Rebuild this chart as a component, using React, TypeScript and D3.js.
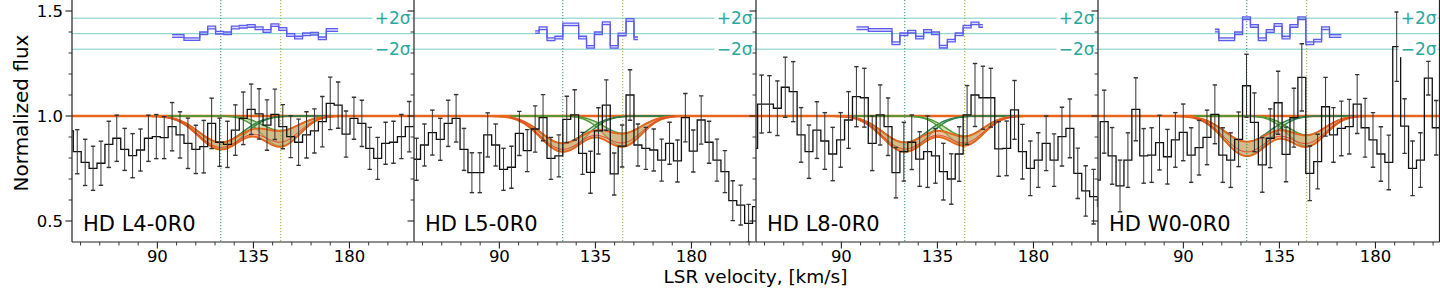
import React from "react";
import * as d3 from "d3";

// ---------------- data ----------------
const panelNames = ["HD L4-0R0", "HD L5-0R0", "HD L8-0R0", "HD W0-0R0"];

const xMajorTicks = [90, 135, 180];
const xMajorLabels = ["90", "135", "180"];
const xMinorTicks = [54, 63, 72, 81, 99, 108, 117, 126, 144, 153, 162, 171, 189, 198, 207];
const yMajorTicks = [0.5, 1.0, 1.5];
const yMajorLabels = ["0.5", "1.0", "1.5"];
const yMinorTicks = [0.6, 0.7, 0.8, 0.9, 1.1, 1.2, 1.3, 1.4];

// velocity bins: centre of bin k = binZero + binWidth*k ; arrays start at k = -1
const binWidth = 3.704;
const binZero = [52.46, 51.2, 52.6, 52.9];

const fluxL4 = [0.929, 0.830, 0.779, 0.751, 0.775, 0.865, 0.894, 0.841, 0.811, 0.838, 0.894, 0.902, 0.897, 0.949, 0.910, 0.870, 0.841, 0.854, 0.965, 0.875, 0.865, 0.933, 0.989, 1.032, 1.010, 0.957, 1.008, 0.949, 0.902, 0.875, 0.910, 0.929, 0.973, 1.060, 1.052, 0.914, 0.989, 0.965, 0.846, 0.798, 0.870, 0.875, 0.902, 0.949, 0.950];
const errL4 = [0.10, 0.105, 0.11, 0.105, 0.105, 0.11, 0.11, 0.10, 0.105, 0.10, 0.11, 0.105, 0.10, 0.115, 0.11, 0.12, 0.115, 0.125, 0.12, 0.115, 0.11, 0.12, 0.125, 0.12, 0.12, 0.12, 0.12, 0.105, 0.10, 0.11, 0.11, 0.105, 0.12, 0.125, 0.11, 0.11, 0.10, 0.11, 0.10, 0.10, 0.10, 0.10, 0.105, 0.12, 0.11];

const fluxL5 = [0.846, 0.794, 0.862, 0.921, 0.889, 0.965, 0.989, 0.841, 0.730, 0.730, 0.910, 0.862, 0.746, 0.756, 0.917, 0.835, 0.938, 0.992, 0.798, 0.810, 0.984, 1.005, 0.822, 0.732, 0.929, 1.052, 0.724, 0.857, 1.100, 0.862, 0.846, 0.838, 0.790, 0.870, 0.786, 0.992, 0.833, 0.981, 0.875, 0.790, 0.735, 0.597, 0.576, 0.489, 0.568];
const errL5 = [0.10, 0.10, 0.10, 0.107, 0.10, 0.11, 0.113, 0.10, 0.095, 0.095, 0.105, 0.10, 0.10, 0.10, 0.105, 0.10, 0.11, 0.11, 0.10, 0.10, 0.11, 0.12, 0.10, 0.10, 0.11, 0.12, 0.10, 0.10, 0.12, 0.10, 0.10, 0.10, 0.10, 0.10, 0.10, 0.115, 0.10, 0.115, 0.10, 0.10, 0.10, 0.095, 0.095, 0.09, 0.09];

const fluxL8 = [0.846, 1.057, 1.057, 1.037, 1.137, 1.116, 0.910, 0.830, 0.933, 0.881, 0.819, 0.886, 0.981, 1.092, 1.087, 0.870, 1.005, 0.949, 0.730, 0.830, 0.875, 0.795, 0.830, 0.810, 0.735, 0.700, 0.819, 1.005, 1.100, 1.087, 1.087, 0.843, 0.846, 1.029, 0.830, 0.751, 0.790, 0.870, 0.790, 0.902, 0.941, 0.727, 0.643, 0.616, 0.568];
const errL8 = [0.13, 0.138, 0.135, 0.13, 0.143, 0.143, 0.13, 0.127, 0.135, 0.135, 0.127, 0.13, 0.135, 0.143, 0.14, 0.13, 0.143, 0.137, 0.12, 0.14, 0.13, 0.13, 0.17, 0.13, 0.135, 0.12, 0.13, 0.14, 0.15, 0.15, 0.14, 0.13, 0.13, 0.14, 0.13, 0.13, 0.13, 0.13, 0.125, 0.14, 0.14, 0.12, 0.12, 0.13, 0.13];

const fluxW0 = [0.695, 0.973, 0.810, 0.667, 0.790, 1.032, 0.810, 0.814, 0.873, 0.806, 0.886, 0.922, 0.814, 0.849, 0.898, 1.008, 0.814, 0.790, 0.889, 1.144, 0.970, 0.767, 0.894, 1.063, 0.817, 0.992, 1.184, 0.727, 0.783, 1.044, 0.910, 0.941, 0.949, 1.057, 0.944, 0.886, 0.819, 0.779, 1.330, 0.952, 0.751, 0.790, 1.180, 0.944, 0.944];
const errW0 = [0.13, 0.15, 0.135, 0.123, 0.13, 0.15, 0.13, 0.13, 0.13, 0.13, 0.13, 0.135, 0.13, 0.13, 0.13, 0.14, 0.13, 0.13, 0.13, 0.15, 0.14, 0.13, 0.14, 0.15, 0.13, 0.14, 0.16, 0.13, 0.13, 0.14, 0.13, 0.13, 0.13, 0.14, 0.14, 0.13, 0.13, 0.13, 0.165, 0.13, 0.13, 0.13, 0.08, 0.13, 0.13];

// residuals (in sigma units), first value at bin k = residStart
const residStart = [12, 15, 12, 14];
const residL4 = [-0.3, -0.3, -0.7, -0.7, 0.05, 0.8, 0.13, 0.05, 0.8, 0.9, 1.0, 0.7, 0.35, 1.1, 0.6, -0.17, -0.5, -0.08, 0.0, -0.6, 0.48, 0.48];
const residL5 = [0.2, 0.7, -0.72, -0.5, 1.2, 1.2, -0.5, -1.7, 0.05, 1.35, -1.7, -0.1, 1.77, -0.6];
const residL8 = [0.7, 0.7, 0.48, 0.48, 0.48, -1.24, -0.08, 0.26, -0.5, 0.35, 0.05, -1.68, -0.9, -0.08, 0.91, 1.33, 1.0];
const residW0 = [0.4, -0.72, -0.72, 0.05, 2.0, 1.0, -0.72, 0.35, 1.12, -0.5, 1.0, 2.0, -1.24, -0.9, 0.7, -0.3, -0.3];
const residZero = 1.392;
const residSigma = 0.0369;

// two absorption components
const lineCenters = [119.7, 147.8];
const lineWidths = [10, 8.5];
const tau1Strong = [0.173, 0.186, 0.186, 0.211];
const tau1Weak = [0.134, 0.139, 0.134, 0.13];
const tau2Strong = [0.155, 0.155, 0.149, 0.155];
const tau2Weak = [0.071, 0.085, 0.1, 0.094];
const compRange = [95, 172];

const fluxSets = [fluxL4, fluxL5, fluxL8, fluxW0];
const errSets = [errL4, errL5, errL8, errW0];
const residSets = [residL4, residL5, residL8, residW0];

// ---------------- layout ----------------
const PANEL_LEFT = [72, 414, 756, 1098];
const PANEL_W = 341.5;
const BOTTOM = 242;
const Y = d3.scaleLinear().domain([0.4, 1.0]).range([BOTTOM, 116]);
const FONT = "DejaVu Sans";

const C_ORANGE = "#e8661c";
const C_BAND = "#d9a062";
const C_GREEN1 = "#2f7f4a";
const C_GREEN2 = "#4f9a34";
const C_GFILL = "#86c46a";
const C_RED = "#e8402a";
const C_BLUE = "#5c5cf0";
const C_TEAL_LINE = "#74cfc5";
const C_TEAL_TEXT = "#2aa89d";

function gauss(v: number, c: number, s: number) {
  return Math.exp(-((v - c) ** 2) / (2 * s * s));
}
function model(v: number, t1: number, t2: number) {
  return Math.exp(-(t1 * gauss(v, lineCenters[0], lineWidths[0]) + t2 * gauss(v, lineCenters[1], lineWidths[1])));
}

function Panel({ p }: { p: number }) {
  const left = PANEL_LEFT[p];
  const right = left + PANEL_W;
  const x = d3.scaleLinear().domain([50, 210]).range([left, right]);
  const flux = fluxSets[p];
  const err = errSets[p];
  const cx = (i: number) => x(binZero[p] + binWidth * (i - 1));

  const stepPath = d3
    .line<number>()
    .x((_, i) => cx(i))
    .y((d) => Y(d))
    .curve(d3.curveStep)(flux) as string;

  const vGrid = d3.range(50, 210.001, 0.5);
  const vComp = d3.range(compRange[0], compRange[1] + 0.001, 0.5);
  const tS1 = tau1Strong[p], tW1 = tau1Weak[p], tS2 = tau2Strong[p], tW2 = tau2Weak[p];

  const area = (f0: (v: number) => number, f1: (v: number) => number, vs: number[]) =>
    d3.area<number>().x((v) => x(v)).y0((v) => Y(f0(v))).y1((v) => Y(f1(v)))(vs) as string;
  const line = (f: (v: number) => number, vs: number[]) =>
    d3.line<number>().x((v) => x(v)).y((v) => Y(f(v)))(vs) as string;

  const c1S = (v: number) => model(v, tS1, 0);
  const c1W = (v: number) => model(v, tW1, 0);
  const c2S = (v: number) => model(v, 0, tS2);
  const c2W = (v: number) => model(v, 0, tW2);
  const totS = (v: number) => model(v, tS1, tS2);
  const totW = (v: number) => model(v, tW1, tW2);
  const fit = (v: number) => model(v, 0.7 * tS1 + 0.3 * tW1, 0.7 * tS2 + 0.3 * tW2);

  const res = residSets[p];
  const rs = residStart[p];
  const rx = (i: number) => x(binZero[p] + binWidth * (rs + i));
  const ry = (r: number) => Y(residZero + r * residSigma);
  const dr = 0.17;
  const resArea = d3
    .area<number>()
    .x((_, i) => rx(i))
    .y0((d) => ry(d - dr))
    .y1((d) => ry(d + dr))
    .curve(d3.curveStep)(res) as string;
  const resLine = (off: number) =>
    d3
      .line<number>()
      .x((_, i) => rx(i))
      .y((d) => ry(d + off))
      .curve(d3.curveStep)(res) as string;

  const clipId = `clip${p}`;
  const sigmaY = [ry(2), ry(0), ry(-2)];
  const bandV = vGrid.filter((v) => v > 85 && v < 176);

  return (
    <g>
      <defs>
        <clipPath id={clipId}>
          <rect x={left} y={-5} width={PANEL_W} height={BOTTOM + 5} />
        </clipPath>
      </defs>
      <g clipPath={`url(#${clipId})`}>
        {sigmaY.map((sy, i) => (
          <line key={i} x1={left} x2={right} y1={sy} y2={sy} stroke={C_TEAL_LINE} strokeWidth={1} />
        ))}
        {/* continuum */}
        <line x1={left} x2={right} y1={Y(1)} y2={Y(1)} stroke={C_ORANGE} strokeWidth={2.5} />
        {/* components */}
        <path d={area(c1S, c1W, vComp)} fill={C_GFILL} fillOpacity={0.45} />
        <path d={area(c2S, c2W, vComp)} fill={C_GFILL} fillOpacity={0.45} />
        <path d={line(c1S, vComp)} fill="none" stroke={C_GREEN1} strokeWidth={1.4} />
        <path d={line(c1W, vComp)} fill="none" stroke={C_GREEN1} strokeWidth={1.4} />
        <path d={line(c2S, vComp)} fill="none" stroke={C_GREEN2} strokeWidth={1.4} />
        <path d={line(c2W, vComp)} fill="none" stroke={C_GREEN2} strokeWidth={1.4} />
        {/* total model band */}
        <path d={area(totS, totW, vGrid)} fill={C_BAND} fillOpacity={0.6} />
        <path d={line(totS, bandV)} fill="none" stroke={C_ORANGE} strokeWidth={1.9} />
        <path d={line(totW, bandV)} fill="none" stroke={C_ORANGE} strokeWidth={1.9} />
        <path d={line(fit, vComp)} fill="none" stroke={C_RED} strokeWidth={1} />
        {/* component velocities */}
        <line x1={x(lineCenters[0])} x2={x(lineCenters[0])} y1={0} y2={BOTTOM} stroke="#2f8a7a" strokeWidth={1} strokeDasharray="1.2 1.8" />
        <line x1={x(lineCenters[1])} x2={x(lineCenters[1])} y1={0} y2={BOTTOM} stroke="#a3a23c" strokeWidth={1} strokeDasharray="1.2 1.8" />
        {/* spectrum */}
        <path d={stepPath} fill="none" stroke="#111" strokeWidth={1.3} />
        {flux.map((f, i) => {
          const xc = cx(i);
          if (xc < left + 1 || xc > right - 1) return null;
          const e = err[i];
          return (
            <g key={i} stroke="#333" strokeWidth={1}>
              <line x1={xc} x2={xc} y1={Y(f - e)} y2={Y(f + e)} />
              <line x1={xc - 2.2} x2={xc + 2.2} y1={Y(f - e)} y2={Y(f - e)} strokeWidth={1.4} />
              <line x1={xc - 2.2} x2={xc + 2.2} y1={Y(f + e)} y2={Y(f + e)} strokeWidth={1.4} />
            </g>
          );
        })}
        {/* residuals */}
        <path d={resArea} fill={C_BLUE} fillOpacity={0.22} />
        <path d={resLine(dr)} fill="none" stroke={C_BLUE} strokeWidth={1.3} />
        <path d={resLine(-dr)} fill="none" stroke={C_BLUE} strokeWidth={1.3} />
        {/* sigma labels */}
        <rect x={right - 41} y={sigmaY[0] - 9} width={39} height={16} fill="#fff" />
        <rect x={right - 41} y={sigmaY[2] - 8} width={39} height={16} fill="#fff" />
        <text x={right - 3} y={sigmaY[0] + 6} textAnchor="end" fontSize={17} fill={C_TEAL_TEXT} fontFamily={FONT}>
          +2σ
        </text>
        <text x={right - 3} y={sigmaY[2] + 6} textAnchor="end" fontSize={17} fill={C_TEAL_TEXT} fontFamily={FONT}>
          −2σ
        </text>
        <text x={left + 11} y={231} fontSize={21} fill="#000" fontFamily={FONT}>
          {panelNames[p]}
        </text>
      </g>
      {/* spines */}
      <line x1={left} x2={left} y1={-2} y2={BOTTOM} stroke="#222" strokeWidth={1.2} />
      <line x1={left} x2={right} y1={BOTTOM} y2={BOTTOM} stroke="#222" strokeWidth={1.2} />
      {p === 3 && <line x1={right} x2={right} y1={-2} y2={BOTTOM} stroke="#222" strokeWidth={1.2} />}
      {/* ticks */}
      {yMajorTicks.map((t) => (
        <line key={`ym${t}`} x1={left - 6.5} x2={left} y1={Y(t)} y2={Y(t)} stroke="#222" strokeWidth={1.1} />
      ))}
      {yMinorTicks.map((t) => (
        <line key={`yn${t}`} x1={left - 3.5} x2={left} y1={Y(t)} y2={Y(t)} stroke="#222" strokeWidth={0.9} />
      ))}
      {xMajorTicks.map((t, i) => (
        <g key={`xm${t}`}>
          <line x1={x(t)} x2={x(t)} y1={BOTTOM} y2={BOTTOM + 6.5} stroke="#222" strokeWidth={1.1} />
          <text x={x(t)} y={262} textAnchor="middle" fontSize={16.5} fontFamily={FONT} fill="#000">
            {xMajorLabels[i]}
          </text>
        </g>
      ))}
      {xMinorTicks.map((t) => (
        <line key={`xn${t}`} x1={x(t)} x2={x(t)} y1={BOTTOM} y2={BOTTOM + 3.5} stroke="#222" strokeWidth={0.9} />
      ))}
    </g>
  );
}

export default function App() {
  return (
    <svg
      width={1440}
      height={288}
      viewBox="0 0 1440 288"
      style={{ position: "absolute", left: 0, top: 0, background: "#fff" }}
      fontFamily={FONT}
    >
      <rect x={0} y={0} width={1440} height={288} fill="#fff" />
      {[0, 1, 2, 3].map((p) => (
        <Panel key={p} p={p} />
      ))}
      {yMajorTicks.map((t, i) => (
        <text key={t} x={63} y={Y(t) + 6} textAnchor="end" fontSize={16.5} fontFamily={FONT} fill="#000">
          {yMajorLabels[i]}
        </text>
      ))}
      <text x={755.5} y={283.3} textAnchor="middle" fontSize={18.5} fontFamily={FONT} fill="#000">
        LSR velocity, [km/s]
      </text>
      <text transform="translate(28,113) rotate(-90)" textAnchor="middle" fontSize={20} fontFamily={FONT} fill="#000">
        Normalized flux
      </text>
    </svg>
  );
}
